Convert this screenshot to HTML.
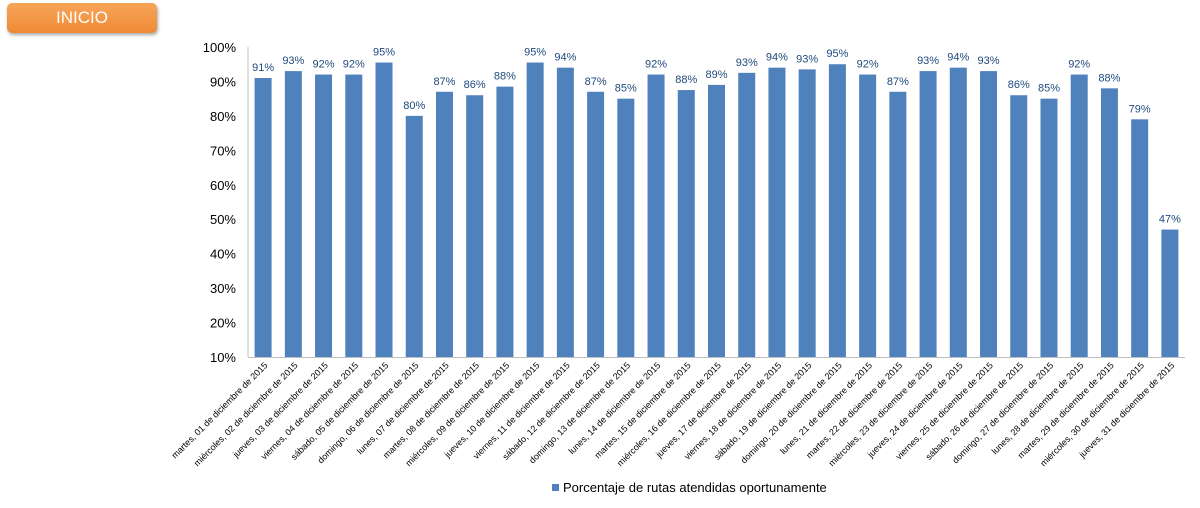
<!DOCTYPE html>
<html><head><meta charset="utf-8">
<style>
body{margin:0;background:#fff;font-family:"Liberation Sans",sans-serif;}
#wrap{position:relative;width:1200px;height:508px;overflow:hidden;}
#btn{position:absolute;left:7px;top:3px;width:150px;height:30px;border-radius:5px;background:linear-gradient(#f7a55a,#ef8a35);box-shadow:1px 2px 3px rgba(0,0,0,0.35);color:#fff;font-size:17px;text-align:center;line-height:30px;}
</style></head><body>
<div id="wrap">
<div id="btn">INICIO</div>
<svg id="chart" width="1200" height="508" style="position:absolute;left:0;top:0"></svg>
</div>
<script>
const categories=["martes, 01 de diciembre de 2015","miércoles, 02 de diciembre de 2015","jueves, 03 de diciembre de 2015","viernes, 04 de diciembre de 2015","sábado, 05 de diciembre de 2015","domingo, 06 de diciembre de 2015","lunes, 07 de diciembre de 2015","martes, 08 de diciembre de 2015","miércoles, 09 de diciembre de 2015","jueves, 10 de diciembre de 2015","viernes, 11 de diciembre de 2015","sábado, 12 de diciembre de 2015","domingo, 13 de diciembre de 2015","lunes, 14 de diciembre de 2015","martes, 15 de diciembre de 2015","miércoles, 16 de diciembre de 2015","jueves, 17 de diciembre de 2015","viernes, 18 de diciembre de 2015","sábado, 19 de diciembre de 2015","domingo, 20 de diciembre de 2015","lunes, 21 de diciembre de 2015","martes, 22 de diciembre de 2015","miércoles, 23 de diciembre de 2015","jueves, 24 de diciembre de 2015","viernes, 25 de diciembre de 2015","sábado, 26 de diciembre de 2015","domingo, 27 de diciembre de 2015","lunes, 28 de diciembre de 2015","martes, 29 de diciembre de 2015","miércoles, 30 de diciembre de 2015","jueves, 31 de diciembre de 2015"];
const values=[91,93,92,92,95.5,80,87,86,88.5,95.5,94,87,85,92,87.5,89,92.5,94,93.5,95,92,87,93,94,93,86,85,92,88,79,47];
const labels=["91%","93%","92%","92%","95%","80%","87%","86%","88%","95%","94%","87%","85%","92%","88%","89%","93%","94%","93%","95%","92%","87%","93%","94%","93%","86%","85%","92%","88%","79%","47%"];
const ticks=[10,20,30,40,50,60,70,80,90,100];
const svg=document.getElementById('chart');
const NS='http://www.w3.org/2000/svg';
const X0=248,X1=1185,Y0=357,Y1=47,MIN=10,MAX=100;
const y=v=>Y0-(v-MIN)/(MAX-MIN)*(Y0-Y1);
const step=(X1-X0)/categories.length;
const xc=i=>X0+step*(i+0.5);
function mk(t,a){const e=document.createElementNS(NS,t);for(const k in a)e.setAttribute(k,a[k]);svg.appendChild(e);return e;}
ticks.forEach(t=>{
 const e=mk('text',{x:X0-12,y:y(t)+5,'text-anchor':'end','font-size':'13','fill':'#000'});
 e.textContent=t+'%';
 
 
});
categories.forEach((c,i)=>{
 const v=values[i];
 const r=mk('rect',{x:xc(i)-8.5,y:y(v),width:17,height:Y0-y(v),fill:'#4f81bd'});
 
 
 const l=mk('text',{x:xc(i),y:y(v)-7,'text-anchor':'middle','font-size':'11','fill':'#1f497d'});
 l.textContent=labels[i];
 
 
 const cx=xc(i)+5,cy=Y0+9;
 const t=mk('text',{x:cx,y:cy,'text-anchor':'end','font-size':'9','fill':'#000',transform:`rotate(-45 ${cx} ${cy})`});
 t.textContent=c;
 
 
});
const ax=mk('line',{x1:X0,y1:Y1,x2:X0,y2:Y0,stroke:'#bfbfbf'});


const bx=mk('line',{x1:X0,y1:Y0+0.5,x2:X1,y2:Y0+0.5,stroke:'#bfbfbf'});


const ls=mk('rect',{x:552,y:484,width:7,height:7,fill:'#4f81bd'});


const lt=mk('text',{x:563,y:492,'font-size':'13','fill':'#000'});
lt.textContent='Porcentaje de rutas atendidas oportunamente';


</script>
</body></html>
